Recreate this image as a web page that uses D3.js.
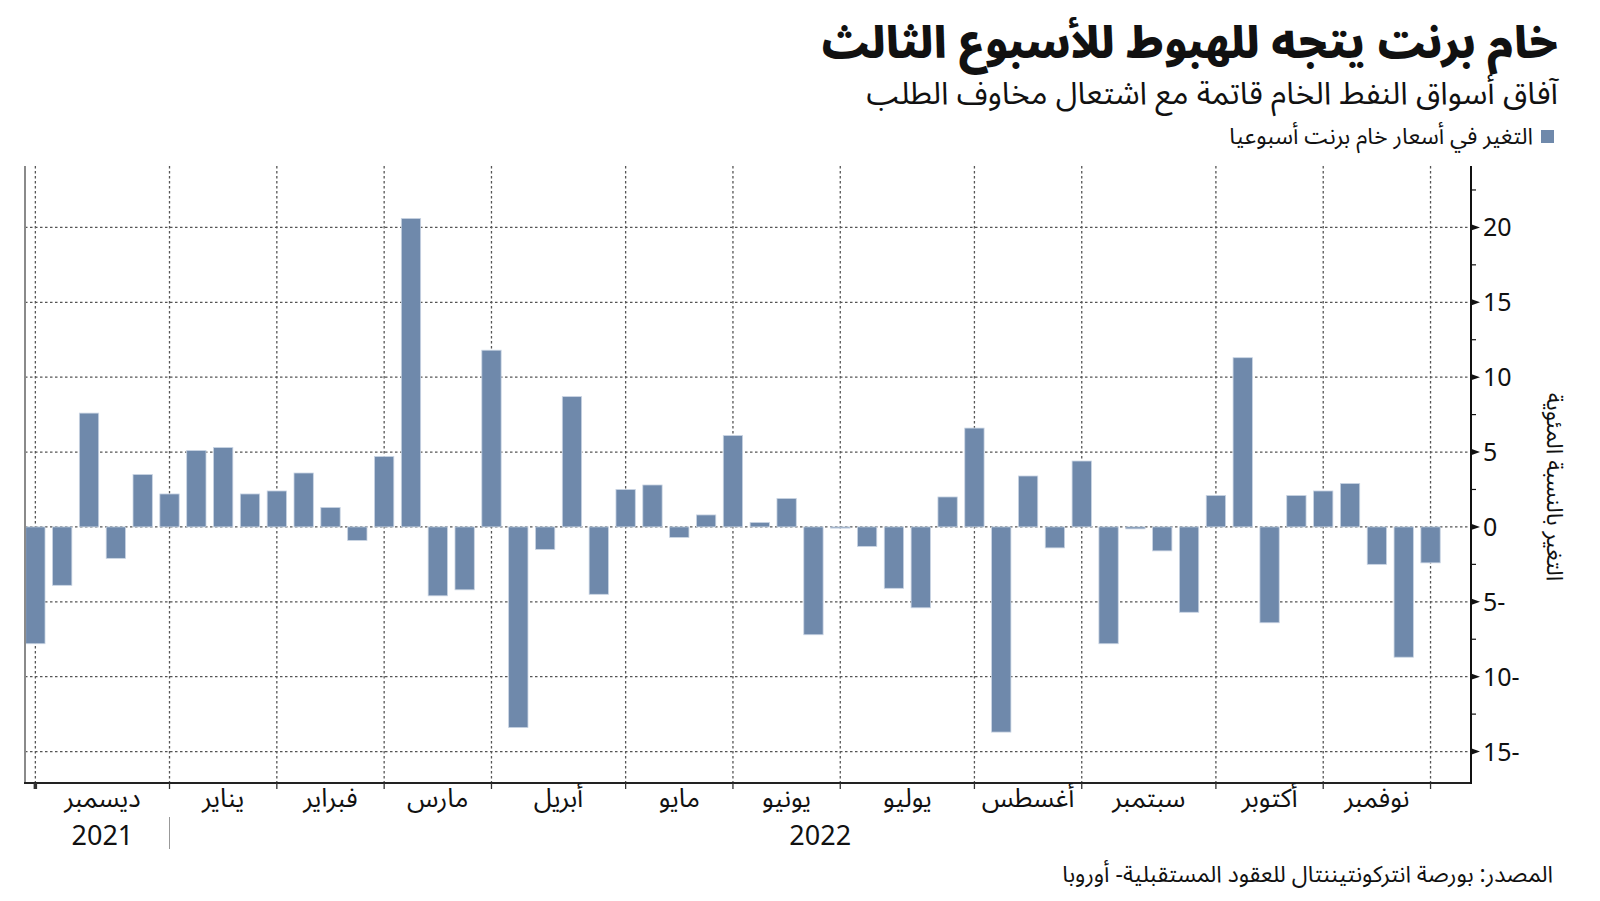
<!DOCTYPE html>
<html lang="ar">
<head>
<meta charset="utf-8">
<script src="https://cdn.jsdelivr.net/npm/d3@7"></script>
<style>
  html, body { margin: 0; padding: 0; background: #fff; }
  svg { display: block; }
  text { font-family: "Noto Sans Arabic", "Noto Sans", "DejaVu Sans", sans-serif; fill: #111; }
</style>
</head>
<body>
<div id="chart"></div>
<script>
// ---------------- data ----------------
const titleText = "خام برنت يتجه للهبوط  للأسبوع الثالث";
const subtitleText = "آفاق أسواق النفط الخام قاتمة مع اشتعال مخاوف الطلب";
const legendText = "التغير في أسعار خام برنت أسبوعيا";
const sourceText = "المصدر: بورصة انتركونتيننتال للعقود المستقبلية- أوروبا";
const yAxisTitle = "التغير بالنسبة المئوية";

// weekly (Friday) categories, Dec 3 2021 .. Dec 2 2022
const weekStart = new Date(2021, 11, 3);
const weekEnd = new Date(2022, 11, 3);

// weekly % change of Brent crude
const weeklyChange = [
  -7.8, -3.9, 7.6, -2.1, 3.5,          // Dec 2021
  2.2, 5.1, 5.3, 2.2,                  // Jan
  2.4, 3.6, 1.3, -0.9,                 // Feb
  4.7, 20.6, -4.6, -4.2,               // Mar
  11.8, -13.4, -1.5, 8.7, -4.5,        // Apr
  2.5, 2.8, -0.7, 0.8,                 // May
  6.1, 0.3, 1.9, -7.2,                 // Jun
  -0.08, -1.3, -4.1, -5.4, 2.0,        // Jul
  6.6, -13.7, 3.4, -1.4,               // Aug
  4.4, -7.8, -0.13, -1.6, -5.7,        // Sep
  2.1, 11.3, -6.4, 2.1,                // Oct
  2.4, 2.9, -2.5, -8.7,                // Nov
  -2.4                                 // Dec 2022
];

const monthLabels = ["ديسمبر","يناير","فبراير","مارس","أبريل","مايو","يونيو","يوليو","أغسطس","سبتمبر","أكتوبر","نوفمبر"];
const yearLabels = ["2021", "2022"];
const yMajorTicks = [-15, -10, -5, 0, 5, 10, 15, 20];
const yMinorTicks = [-12.5, -7.5, -2.5, 2.5, 7.5, 12.5, 17.5, 22.5];

// ---------------- layout ----------------
const W = 1600, H = 901;
const plotLeft = 25, plotRight = 1471, plotTop = 166, plotBottom = 783;
const barColor = "#6f89ab";

const svg = d3.select("#chart").append("svg")
  .attr("width", W).attr("height", H).attr("viewBox", `0 0 ${W} ${H}`);

const weeks = d3.timeFriday.range(weekStart, weekEnd);
const data = weeks.map((d, i) => ({ date: d, value: weeklyChange[i] }));

const x = d3.scaleBand()
  .domain(weeks)
  .range([25.7, 1440.2])
  .paddingInner(0.28)
  .paddingOuter(0);

const y = d3.scaleLinear()
  .domain([-17.1, 24.1])
  .range([plotBottom, plotTop]);

const cx = d => x(d) + x.bandwidth() / 2;

// month boundaries (first week of each month)
const monthStartIdx = weeks.map((d, i) => i).filter(i => i === 0 || weeks[i].getMonth() !== weeks[i - 1].getMonth());
const monthLines = monthStartIdx.map(i => cx(weeks[i]));

// ---------------- grid ----------------
const grid = svg.append("g");
grid.selectAll("line.h").data(yMajorTicks).join("line")
  .attr("x1", plotLeft).attr("x2", plotRight)
  .attr("y1", d => y(d)).attr("y2", d => y(d))
  .attr("stroke", "#555").attr("stroke-width", 1.3)
  .attr("stroke-dasharray", "2.5,2.5");
grid.selectAll("line.v").data(monthLines).join("line")
  .attr("x1", d => d).attr("x2", d => d)
  .attr("y1", plotTop).attr("y2", plotBottom)
  .attr("stroke", "#555").attr("stroke-width", 1.3)
  .attr("stroke-dasharray", "2.5,2.5");

// ---------------- bars ----------------
svg.append("g").selectAll("rect").data(data).join("rect")
  .attr("x", d => x(d.date))
  .attr("width", x.bandwidth())
  .attr("y", d => Math.min(y(d.value), y(0)))
  .attr("height", d => Math.max(Math.abs(y(d.value) - y(0)), 0.8))
  .attr("fill", barColor)
  .attr("stroke", "#c9d4e3")
  .attr("stroke-width", 0.8);

// ---------------- frame / axes ----------------
svg.append("line").attr("x1", plotLeft).attr("x2", plotLeft)
  .attr("y1", plotTop).attr("y2", plotBottom)
  .attr("stroke", "#8a8a8a").attr("stroke-width", 2);
svg.append("line").attr("x1", plotLeft - 1).attr("x2", plotRight + 1)
  .attr("y1", plotBottom).attr("y2", plotBottom)
  .attr("stroke", "#222").attr("stroke-width", 2);
svg.append("line").attr("x1", plotRight).attr("x2", plotRight)
  .attr("y1", plotTop).attr("y2", plotBottom + 1)
  .attr("stroke", "#111").attr("stroke-width", 2);

// x ticks
svg.append("g").selectAll("line").data(monthLines).join("line")
  .attr("x1", d => d).attr("x2", d => d)
  .attr("y1", plotBottom).attr("y2", plotBottom + 6)
  .attr("stroke", "#333").attr("stroke-width", (d, i) => i === 0 ? 3.5 : 1.3);

// month labels centred between boundaries
svg.append("g").selectAll("text").data(monthLabels).join("text")
  .attr("x", (d, i) => (monthLines[i] + monthLines[i + 1]) / 2)
  .attr("y", 807)
  .attr("text-anchor", "middle")
  .attr("font-size", 26)
  .text(d => d);

// year labels
svg.append("text")
  .attr("x", (monthLines[0] + monthLines[1]) / 2)
  .attr("y", 845).attr("text-anchor", "middle").attr("font-size", 27)
  .text(yearLabels[0]);
svg.append("text")
  .attr("x", (monthLines[1] + plotRight) / 2)
  .attr("y", 845).attr("text-anchor", "middle").attr("font-size", 27)
  .text(yearLabels[1]);
svg.append("line").attr("x1", monthLines[1]).attr("x2", monthLines[1])
  .attr("y1", 817).attr("y2", 849).attr("stroke", "#999").attr("stroke-width", 1);

// y axis (right)
const yAxisG = svg.append("g");
yAxisG.selectAll("path.tri").data(yMajorTicks).join("path")
  .attr("d", d => `M${plotRight},${y(d) - 3.2}L${plotRight + 9},${y(d)}L${plotRight},${y(d) + 3.2}Z`)
  .attr("fill", "#111");
yAxisG.selectAll("line.minor").data(yMinorTicks).join("line")
  .attr("x1", plotRight).attr("x2", plotRight + 5)
  .attr("y1", d => y(d)).attr("y2", d => y(d))
  .attr("stroke", "#111").attr("stroke-width", 1.2);
yAxisG.selectAll("text").data(yMajorTicks).join("text")
  .attr("x", plotRight + 12)
  .attr("y", d => y(d))
  .attr("dy", "0.36em")
  .attr("text-anchor", "start")
  .attr("font-size", 25)
  .attr("font-family", "'Noto Sans', sans-serif")
  .text(d => d < 0 ? `${Math.abs(d)}-` : `${d}`);

// y axis title (rotated)
svg.append("text")
  .attr("transform", "translate(1547,487) rotate(90)")
  .attr("text-anchor", "middle")
  .attr("font-size", 23)
  .text(yAxisTitle);

// ---------------- titles ----------------
svg.append("text").attr("x", 1558).attr("y", 58)
  .attr("text-anchor", "end")
  .attr("font-size", 43).attr("font-weight", 900)
  .text(titleText);
svg.append("text").attr("x", 1558).attr("y", 104)
  .attr("text-anchor", "end")
  .attr("font-size", 31.5)
  .text(subtitleText);

// legend
svg.append("rect").attr("x", 1541).attr("y", 130).attr("width", 13).attr("height", 13)
  .attr("fill", barColor);
svg.append("text").attr("x", 1533).attr("y", 144)
  .attr("text-anchor", "end")
  .attr("font-size", 23)
  .text(legendText);

// source
svg.append("text").attr("x", 1553).attr("y", 882)
  .attr("text-anchor", "end")
  .attr("font-size", 23)
  .text(sourceText);
</script>
</body>
</html>
